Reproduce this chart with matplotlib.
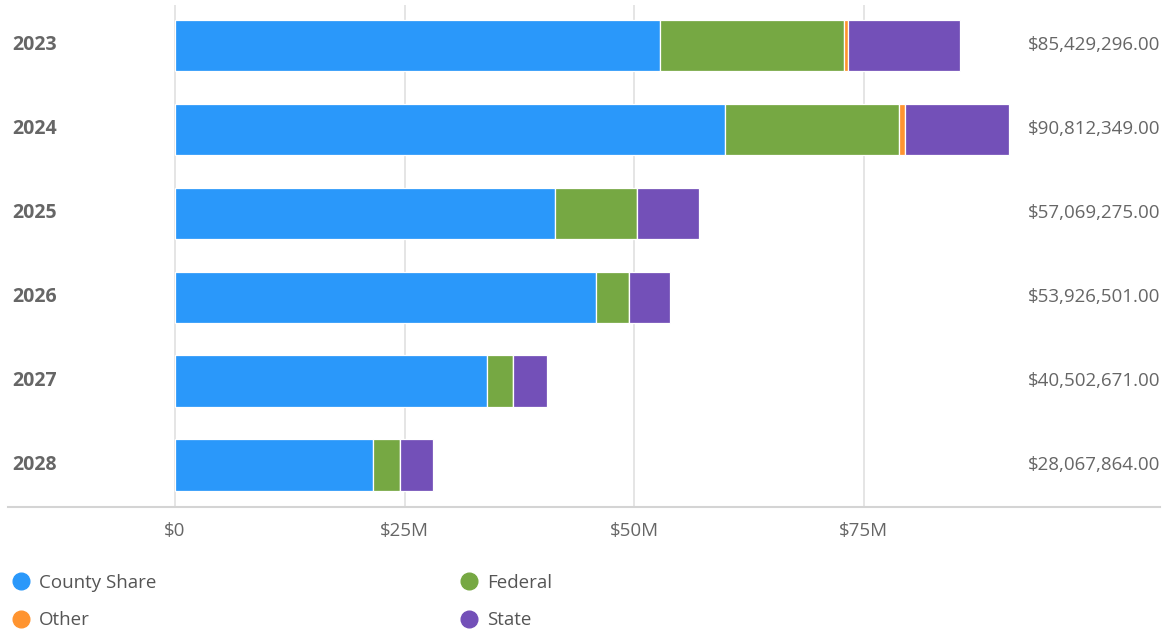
import matplotlib
matplotlib.use('Agg')
import matplotlib.pyplot as plt
from matplotlib.lines import Line2D
from matplotlib.ticker import FuncFormatter
import numpy as np

plt.rcParams['font.family'] = ['Open Sans', 'DejaVu Sans']

YEARS   = ['2023', '2024', '2025', '2026', '2027', '2028']
COUNTY  = [52.80, 59.84, 41.40, 45.80, 33.98, 21.58]   # $M
FEDERAL = [20.10, 18.97, 8.93, 3.60, 2.82, 2.97]
OTHER   = [0.35, 0.65, 0.0, 0.0, 0.0, 0.0]
TOTALS  = [85429296, 90812349, 57069275, 53926501, 40502671, 28067864]
STATE   = [t / 1e6 - c - f - o for t, c, f, o in zip(TOTALS, COUNTY, FEDERAL, OTHER)]
XTICKS  = [0, 25, 50, 75]

SERIES = [('County Share', COUNTY, '#2A98FA'),
          ('Federal', FEDERAL, '#76A843'),
          ('Other', OTHER, '#FF9430'),
          ('State', STATE, '#7350B8')]

W, H = 1165, 636
fig = plt.figure(figsize=(W / 100, H / 100), dpi=100)
ax = fig.add_axes([8 / W, (H - 507) / H, (1160 - 8) / W, (507 - 5) / H])

y = np.arange(len(YEARS))
left = np.zeros(len(YEARS))
for name, vals, col in SERIES:
    ax.barh(y, vals, left=left, height=0.61, color=col, edgecolor='white',
            linewidth=0.9, label=name, zorder=3)
    left += np.array(vals)

ax.set_xlim(-18.19, 107.26)
ax.set_ylim(len(YEARS) - 0.5, -0.48)
ax.set_xticks(XTICKS)
ax.xaxis.set_major_formatter(FuncFormatter(lambda v, p: '$0' if v == 0 else f'${v:.0f}M'))
ax.tick_params(axis='x', length=0, pad=11, labelsize=13.5, labelcolor='#666666')
ax.set_yticks([])
ax.xaxis.grid(True, color='#e0e0e0', lw=1.2, zorder=0)
ax.set_axisbelow(True)
for sp in ['top', 'right', 'left']:
    ax.spines[sp].set_visible(False)
ax.spines['bottom'].set_color('#d4d4d4')
ax.spines['bottom'].set_linewidth(1.5)

tr = ax.get_yaxis_transform()
for i, (yr, tot) in enumerate(zip(YEARS, TOTALS)):
    ax.text(0.0035, i, yr, transform=tr, ha='left', va='center',
            fontsize=14, fontweight='bold', color='#666666')
    ax.text(1.0, i, f'${tot:,.2f}', transform=tr, ha='right', va='center',
            fontsize=13.5, color='#666666')

handles = [Line2D([], [], marker='o', ls='none', markersize=12,
                  markerfacecolor=c, markeredgecolor=c, label=n)
           for n, _, c in [SERIES[0], SERIES[2], SERIES[1], SERIES[3]]]
fig.legend(handles=handles, loc='upper left', bbox_to_anchor=(-7 / W, 1 - 557 / H),
           ncol=2, frameon=False, fontsize=13.5, labelcolor='#555555',
           handletextpad=0.35, columnspacing=16.1, labelspacing=1.03, handlelength=1.2)

fig.savefig('out.png', dpi=100)
